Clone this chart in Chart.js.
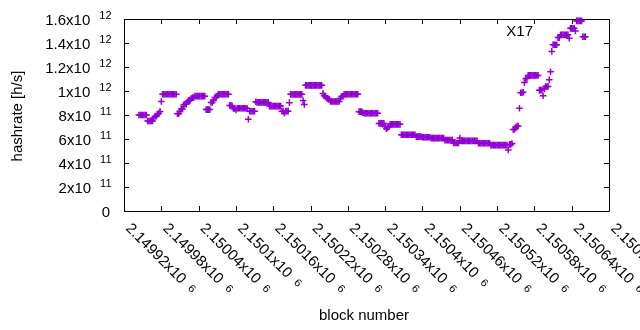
<!DOCTYPE html>
<html>
<head>
<meta charset="utf-8">
<script src="https://cdn.jsdelivr.net/npm/chart.js@4.4.0/dist/chart.umd.min.js"></script>
<style>
    html, body { margin: 0; padding: 0; background: #fff; }
</style>
</head>
<body>
<canvas id="hashChart" width="640" height="330"></canvas>
<script>
// first plotted block, one sample every 2 blocks
const firstBlock = 2149944;
const blockStep = 2;

// hashrate per sample, in units of 1e11 h/s
const hashrate = [
    8.0, 8.0, 8.0, 8.0, 8.0, 8.0, 8.0,
    7.5, 7.5, 7.5, 7.5, 7.5,
    7.75, 7.9, 7.9, 8.05, 8.15, 8.3,
    9.13,
    9.73, 9.73, 9.73, 9.73, 9.73, 9.73, 9.73, 9.73, 9.73, 9.73, 9.73, 9.73,
    8.1, 8.1, 8.3, 8.5, 8.5,
    8.84, 8.9, 8.9, 9.11, 9.2, 9.2, 9.38, 9.45, 9.45,
    9.57, 9.57, 9.57, 9.57, 9.57, 9.57, 9.57, 9.57, 9.57,
    8.45, 8.45, 8.45, 8.45,
    9.05, 9.05, 9.2, 9.45, 9.45, 9.6,
    9.73, 9.73, 9.73, 9.73, 9.73, 9.73, 9.73, 9.73, 9.73,
    8.8, 8.8, 8.75, 8.55, 8.55, 8.42,
    8.56, 8.56, 8.56, 8.56, 8.56, 8.56, 8.56, 8.56, 8.56,
    7.64, 8.31,
    8.31, 8.31, 8.31, 8.31,
    9.11, 9.05,
    9.05, 9.05, 9.05, 9.05, 9.05, 9.05, 9.05, 9.05, 9.05,
    8.74, 8.74, 8.74, 8.74, 8.74, 8.74, 8.74, 8.74, 8.74, 8.74,
    8.32, 8.32, 8.15, 8.32, 8.32, 8.32,
    9.03, 9.72,
    9.72, 9.72, 9.72, 9.72, 9.72, 9.72, 9.72, 9.72, 9.72,
    9.2, 8.88, 10.47,
    10.47, 10.47, 10.47, 10.47, 10.47, 10.47, 10.47, 10.47, 10.47, 10.47, 10.47, 10.47, 10.47,
    9.8, 9.6, 9.5, 9.4, 9.4, 9.3,
    9.13, 9.13, 9.13, 9.13, 9.13, 9.13, 9.13, 9.13,
    9.4, 9.55, 9.55,
    9.73, 9.73, 9.73, 9.73, 9.73, 9.73, 9.73, 9.73, 9.73, 9.73, 9.73, 9.73,
    8.28, 8.28, 8.28, 8.2,
    8.14, 8.14, 8.14, 8.14, 8.14, 8.14, 8.14, 8.14, 8.14, 8.14, 8.14, 8.14,
    7.3, 7.3, 7.3, 7.3, 7.3,
    7.02, 6.85, 6.95, 7.02,
    7.22, 7.22, 7.22, 7.22, 7.22, 7.22, 7.22, 7.22, 7.22,
    6.36, 6.36, 6.36, 6.36, 6.36, 6.36, 6.36, 6.36, 6.36, 6.36, 6.36, 6.36,
    6.2, 6.2, 6.2, 6.2, 6.2,
    6.14, 6.14, 6.14, 6.14, 6.14, 6.14, 6.14,
    6.07, 6.07, 6.07, 6.07, 6.07, 6.07, 6.07, 6.07, 6.07, 6.07, 6.07,
    5.91, 5.91, 5.91, 5.91, 5.91, 5.91, 5.91,
    5.67, 5.67, 5.67, 5.67, 5.67,
    6.08,
    5.84, 5.84, 5.84, 5.84, 5.84, 5.84, 5.84, 5.84, 5.84, 5.84, 5.84, 5.84, 5.84, 5.84,
    5.65, 5.65, 5.65, 5.65, 5.65, 5.65, 5.65, 5.65, 5.65, 5.65,
    5.49, 5.49, 5.49, 5.49, 5.49, 5.49, 5.49, 5.49, 5.49, 5.49, 5.49, 5.49, 5.49, 5.49,
    5.08, 5.55, 5.55, 5.62,
    6.8, 6.8, 6.95, 7.08, 7.08,
    8.56,
    9.85, 9.85, 9.9,
    10.7, 11.05, 11.05,
    11.3, 11.3, 11.3, 11.3, 11.3, 11.3, 11.3, 11.3, 11.3,
    10.07, 10.07, 10.07, 9.6, 10.2, 10.37, 10.37, 10.37, 10.93, 11.6, 13.3,
    13.85, 13.85, 13.85, 13.85,
    14.45, 14.45,
    14.69, 14.69, 14.69, 14.69, 14.69, 14.69, 14.69,
    14.4, 15.22,
    15.22, 15.22, 15.22, 15.0,
    15.84, 15.84, 15.84, 15.84, 15.84,
    14.52, 14.52, 14.52
];

const seriesName = 'X17';

const xTickValues = [2149920, 2149980, 2150040, 2150100, 2150160, 2150220, 2150280,
    2150340, 2150400, 2150460, 2150520, 2150580, 2150640, 2150700];
const xTickMantissa = ['2.14992', '2.14998', '2.15004', '2.1501', '2.15016', '2.15022', '2.15028',
    '2.15034', '2.1504', '2.15046', '2.15052', '2.15058', '2.15064', '2.1507'];
const xTickExponent = '6';

const yTickValues = [0, 2e11, 4e11, 6e11, 8e11, 1e12, 1.2e12, 1.4e12, 1.6e12];
const yTickMantissa = ['0', '2', '4', '6', '8', '1', '1.2', '1.4', '1.6'];
const yTickExponent = ['', '11', '11', '11', '11', '12', '12', '12', '12'];

const xTitle = 'block number';
const yTitle = 'hashrate [h/s]';

const purple = '#9400d3';
const mainFont = '15px "Liberation Sans", Arial, sans-serif';
const supFont = '11px "Liberation Sans", Arial, sans-serif';

const punti = hashrate.map((v, i) => ({ x: firstBlock + i * blockStep, y: v * 1e11 }));

// cerceve, tikler ve yazilar (gnuplot gorunumu)
const gnuplotFrame = {
    id: 'gnuplotFrame',
    beforeDatasetsDraw(chart) {
        const ctx = chart.ctx;
        const a = chart.chartArea;
        const xs = chart.scales.x;
        const ys = chart.scales.y;
        ctx.save();
        ctx.strokeStyle = '#000';
        ctx.lineWidth = 1;
        ctx.beginPath();
        ctx.rect(a.left + 0.5, a.top + 0.5, a.right - a.left, a.bottom - a.top);
        xTickValues.forEach(v => {
            const px = Math.round(xs.getPixelForValue(v)) + 0.5;
            ctx.moveTo(px, a.bottom); ctx.lineTo(px, a.bottom - 5);
            ctx.moveTo(px, a.top); ctx.lineTo(px, a.top + 5);
        });
        yTickValues.forEach(v => {
            const py = Math.round(ys.getPixelForValue(v)) + 0.5;
            ctx.moveTo(a.left, py); ctx.lineTo(a.left + 5, py);
            ctx.moveTo(a.right, py); ctx.lineTo(a.right - 5, py);
        });
        ctx.stroke();
        ctx.restore();
    },
    afterDatasetsDraw(chart) {
        const ctx = chart.ctx;
        const a = chart.chartArea;
        const xs = chart.scales.x;
        const ys = chart.scales.y;
        ctx.save();
        ctx.fillStyle = '#000';
        ctx.textBaseline = 'alphabetic';

        // y ekseni etiketleri
        yTickValues.forEach((v, k) => {
            const py = ys.getPixelForValue(v);
            let right = a.left - 12.5;
            ctx.textAlign = 'right';
            if (yTickExponent[k]) {
                ctx.font = supFont;
                ctx.fillText(yTickExponent[k], right, py);
                right -= ctx.measureText(yTickExponent[k]).width + 9;
                ctx.font = mainFont;
                ctx.fillText(yTickMantissa[k] + 'x10', right, py + 5.5);
            } else {
                ctx.font = mainFont;
                ctx.fillText(yTickMantissa[k], right - 1.5, py + 5.5);
            }
        });

        // x ekseni etiketleri (45 derece)
        xTickValues.forEach((v, k) => {
            const px = xs.getPixelForValue(v);
            ctx.save();
            ctx.translate(px + 1, a.bottom + 18);
            ctx.rotate(Math.PI / 4);
            ctx.textAlign = 'left';
            ctx.font = mainFont;
            const txt = xTickMantissa[k] + 'x10';
            ctx.fillText(txt, 0, 0);
            const w = ctx.measureText(txt).width;
            ctx.font = supFont;
            ctx.fillText(xTickExponent, w + 8, -1.5);
            ctx.restore();
        });

        // eksen basliklari
        ctx.font = mainFont;
        ctx.textAlign = 'center';
        ctx.textBaseline = 'middle';
        ctx.fillText(xTitle, 364, 316);
        ctx.save();
        ctx.translate(18, 116);
        ctx.rotate(-Math.PI / 2);
        ctx.fillText(yTitle, 0, 0);
        ctx.restore();

        // anahtar
        ctx.textAlign = 'right';
        ctx.fillText(seriesName, 533, 32);
        ctx.restore();
    }
};

const ctx = document.getElementById('hashChart').getContext('2d');
window.hashChart = new Chart(ctx, {
    type: 'scatter',
    data: {
        datasets: [{
            label: seriesName,
            data: punti,
            pointStyle: 'cross',
            pointRadius: 3.3,
            pointHoverRadius: 3.3,
            pointBorderWidth: 1.5,
            borderColor: purple,
            backgroundColor: purple,
            clip: false
        }]
    },
    options: {
        responsive: false,
        animation: false,
        devicePixelRatio: 1,
        layout: { padding: { left: 124, right: 31, top: 19, bottom: 119 } },
        scales: {
            x: { type: 'linear', min: 2149920, max: 2150700, display: false },
            y: { type: 'linear', min: 0, max: 1.6e12, display: false }
        },
        plugins: {
            legend: { display: false },
            tooltip: { enabled: false }
        }
    },
    plugins: [gnuplotFrame]
});
</script>
</body>
</html>
